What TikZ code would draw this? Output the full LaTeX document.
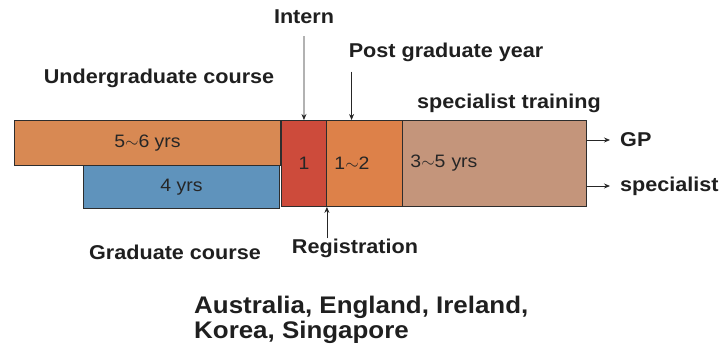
\documentclass[tikz,border=0pt]{standalone}
\usepackage{fontspec}
\setmainfont{Liberation Sans}[FakeStretch=1.08]
\usepackage{xcolor}
\definecolor{ugorange}{RGB}{216,137,83}
\definecolor{gradblue}{RGB}{95,147,188}
\definecolor{internred}{RGB}{205,75,59}
\definecolor{pgyorange}{RGB}{221,129,73}
\definecolor{spectan}{RGB}{196,149,123}
\definecolor{edgegray}{RGB}{45,45,45}
\usepackage{tikz}
\usetikzlibrary{arrows.meta,positioning,calc}

\begin{document}
\begin{tikzpicture}[x=1pt,y=-1pt,
    period/.style={draw=edgegray,line width=0.9pt,anchor=north west,inner sep=0pt,
        font=\fontsize{18}{20}\selectfont,text=black!85},
    lbl/.style={font=\fontsize{20}{22}\selectfont\bfseries,text=black!88,inner sep=2pt},
    arr/.style={-{Stealth[length=6pt,width=5pt]},line width=0.8pt,black!85}]
    \useasboundingbox (0,0) rectangle (721,350);

    % Course and training periods
    \node[period,fill=ugorange,minimum width=266pt,minimum height=45pt] (ug) at (14,120) {5$\sim$6 yrs};
    \node[period,fill=gradblue,minimum width=196pt,minimum height=43pt] (grad) at (83,165) {4 yrs};
    \node[period,fill=internred,minimum width=45pt,minimum height=86pt] (intbox) at (281,120) {1};
    \node[period,fill=pgyorange,minimum width=76pt,minimum height=86pt,
        text width=60pt,align=left,inner xsep=8pt] (pgybox) at (326,120) {1$\sim$2};
    \node[period,fill=spectan,minimum width=184pt,minimum height=86pt,
        text width=168pt,align=left,inner xsep=8pt] (spbox) at (402,120) {3$\sim$5 yrs};

    % Labels
    \node[lbl] (uglbl) at (159,78) {Undergraduate course};
    \node[lbl] (gradlbl) at (175,252) {Graduate course};
    \node[lbl] (intlbl) at (304,17) {Intern};
    \node[lbl] (pgylbl) at (446,52) {Post graduate year};
    \node[lbl] (splbl) at (509,103) {specialist training};
    \node[lbl] (reglbl) at (355,248) {Registration};
    \node[lbl,anchor=west] (gplbl) at (618,140) {GP};
    \node[lbl,anchor=west] (speclbl) at (618,186) {specialist};

    \draw[arr,shorten <=10pt] (intlbl.south) -- (intbox.north);
    \draw[arr] ([xshift=5pt,yshift=-8pt]pgylbl.south west) -- ([xshift=5pt]pgylbl.south west |- pgybox.north);
    \draw[arr] ([yshift=-2pt]reglbl.north -| intbox.south east) -- (intbox.south east);
    \draw[arr,shorten >=8pt] (spbox.east |- gplbl) -- (gplbl.west);
    \draw[arr,shorten >=8pt] (spbox.east |- speclbl) -- (speclbl.west);

    % Countries
    \node[lbl,anchor=west,align=left,font=\fontsize{24}{25}\selectfont\bfseries] (cntry) at (192,320)
        {Australia, England, Ireland,\\Korea, Singapore};
\end{tikzpicture}
\end{document}
